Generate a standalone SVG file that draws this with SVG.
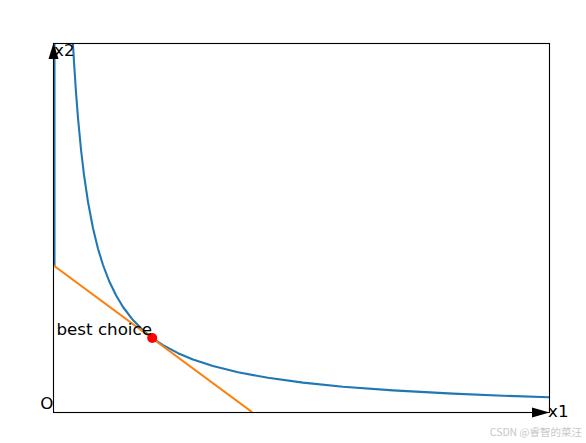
<svg xmlns="http://www.w3.org/2000/svg" width="586" height="443" viewBox="0 0 586 443">
  <style>
    .lbl { font-family: "DejaVu Sans", "Liberation Sans", sans-serif; font-size: 16.7px; fill: #000; }
    .wm { font-family: "Noto Sans CJK SC", "DejaVu Sans", sans-serif; font-size: 10.5px; fill: #c8c8c8; }
    .curve { fill: none; stroke: #1f77b4; stroke-width: 2.08; stroke-linejoin: round; stroke-linecap: butt; }
    .budget { fill: none; stroke: #ff7f0e; stroke-width: 2.08; }
    .spine { fill: none; stroke: #000; stroke-width: 1.1; stroke-linecap: square; }
  </style>
  <defs>
    <clipPath id="axes"><rect x="53" y="43" width="496" height="369"/></clipPath>
  </defs>
  <rect x="0" y="0" width="586" height="443" fill="#fff"/>
  <g id="connectors" clip-path="url(#axes)">
    <path class="curve" d="M54.5,43 L54.5,266"/>
    <path class="curve" d="M72.9,42.7 L74,62 L76,92.4 L78,118 L81,149.5 L84,174.9 L88,202 L93,228.25 L98,248.7 L103,265 L109,280.75 L116,295.3 L123,307 L133,320.1 L143,330.3 L152,337.8 L163,345.2 L178,353.2 L193,359.5 L213,366.1 L238,372.3 L268,377.8 L303,382.6 L343,386.7 L393,390.4 L453,393.6 L503,395.7 L549,397.2"/>
    <path class="budget" d="M53,265 L252,412"/>
  </g>
  <g id="axes-frame">
    <rect class="spine" x="53.5" y="43.5" width="496" height="369"/>
  </g>
  <g id="y-arrow">
    <polygon points="53.5,43 58.5,59 48.5,59" fill="#000"/>
    <text class="lbl" x="54" y="56">x2</text>
  </g>
  <g id="x-arrow">
    <polygon points="549.5,412.5 532,407.5 532,417.5" fill="#000"/>
    <text class="lbl" x="548" y="417">x1</text>
  </g>
  <g id="origin">
    <text class="lbl" x="53.5" y="409" text-anchor="end">O</text>
  </g>
  <g id="best-choice">
    <circle cx="152.2" cy="338" r="5" fill="#ff0000"/>
    <text class="lbl" x="56.5" y="335">best choice</text>
  </g>
  <g id="watermark">
    <text class="wm" x="582" y="436" text-anchor="end">CSDN @睿智的菜汪</text>
  </g>
</svg>
